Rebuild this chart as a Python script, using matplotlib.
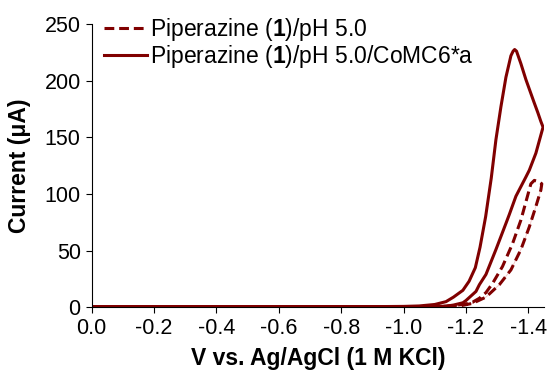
import matplotlib
matplotlib.use("Agg")
import matplotlib.pyplot as plt

plt.rcParams["font.family"] = ["Liberation Sans", "DejaVu Sans"]
plt.rcParams["mathtext.fontset"] = "custom"
plt.rcParams["mathtext.bf"] = "Liberation Sans:bold"
plt.rcParams["mathtext.rm"] = "Liberation Sans"
plt.rcParams["axes.unicode_minus"] = False

# cyclic voltammogram with catalyst: cathodic sweep then return sweep
v_cat_fwd = [0, -0.2, -0.4, -0.6, -0.8, -1.0, -1.05, -1.10, -1.136, -1.16, -1.19,
             -1.21, -1.23, -1.245, -1.263, -1.281, -1.296, -1.312, -1.328, -1.344,
             -1.351, -1.356, -1.362, -1.376, -1.392, -1.405, -1.418, -1.43, -1.44,
             -1.447]
i_cat_fwd = [0.3, 0.3, 0.3, 0.3, 0.4, 0.8, 1.2, 2.5, 5, 9, 15,
             23, 35, 53, 80, 114, 148, 177, 203, 222,
             226, 227.5, 226, 215, 201, 191, 181, 172, 164,
             159]
v_cat_rev = [-1.424, -1.403, -1.392, -1.360, -1.339, -1.328, -1.296, -1.264,
             -1.243, -1.232, -1.2, -1.19, -1.16, -1.136, -1.1, -1.05, -1.0,
             -0.8, -0.6, -0.4, -0.2, 0]
i_cat_rev = [136, 121, 115, 98, 82, 74, 51, 29,
             20, 14, 6, 4, 2, 1, 0.6, 0.4, 0.3,
             0.3, 0.2, 0.2, 0.2, 0.3]

# piperazine alone
v_pip_fwd = [0, -0.5, -1.0, -1.1, -1.15, -1.2, -1.221, -1.243, -1.264, -1.285,
             -1.317, -1.349, -1.376, -1.392, -1.408, -1.419, -1.432, -1.443]
i_pip_fwd = [0.2, 0.2, 0.3, 0.6, 1.2, 3, 4.5, 8, 13, 21,
             36, 56, 77, 93, 109, 112, 111, 109]
v_pip_rev = [-1.44, -1.424, -1.403, -1.376, -1.344, -1.307, -1.264, -1.221,
             -1.18, -1.1, -1.0, -0.5, 0]
i_pip_rev = [103.5, 89, 71, 51, 33, 20, 9, 3.5,
             1.2, 0.4, 0.2, 0.2, 0.2]

color = "#800000"

fig = plt.figure(figsize=(5.47, 3.81), dpi=100)
ax = fig.add_axes([0.1673, 0.1934, 0.8272, 0.7436])

ax.plot(v_pip_rev, i_pip_rev, color="#f2caca", lw=0.7)
ax.plot(v_pip_fwd + v_pip_rev, i_pip_fwd + i_pip_rev, color=color, lw=2.2,
        dashes=(3.2, 1.6), label=r"Piperazine ($\mathbf{1}$)/pH 5.0")
ax.plot(v_cat_fwd + v_cat_rev, i_cat_fwd + i_cat_rev, color=color, lw=2.2,
        label=r"Piperazine ($\mathbf{1}$)/pH 5.0/CoMC6*a")

ax.set_xlim(0, -1.45)
ax.set_ylim(0, 250)
ax.set_xticks([0, -0.2, -0.4, -0.6, -0.8, -1.0, -1.2, -1.4])
ax.set_xticklabels(["0.0", "-0.2", "-0.4", "-0.6", "-0.8", "-1.0", "-1.2", "-1.4"])
ax.set_yticks([0, 50, 100, 150, 200, 250])

for s in ["top", "right"]:
    ax.spines[s].set_visible(False)
for s in ["left", "bottom"]:
    ax.spines[s].set_linewidth(0.8)
ax.tick_params(direction="out", length=4.3, width=0.8, labelsize=15.5, pad=3.5)

ax.set_xlabel("V vs. Ag/AgCl (1 M KCl)", fontsize=16.5, fontweight="bold", labelpad=6)
ax.set_ylabel("Current (μA)", fontsize=16.5, fontweight="bold", labelpad=10)

ax.legend(loc="upper left", bbox_to_anchor=(104 / 547, 1 - 16 / 381),
          bbox_transform=fig.transFigure, frameon=False, fontsize=16.5,
          handlelength=1.87, handletextpad=0.15, labelspacing=0.0,
          borderpad=0, borderaxespad=0)

fig.savefig("out.png", dpi=100)
